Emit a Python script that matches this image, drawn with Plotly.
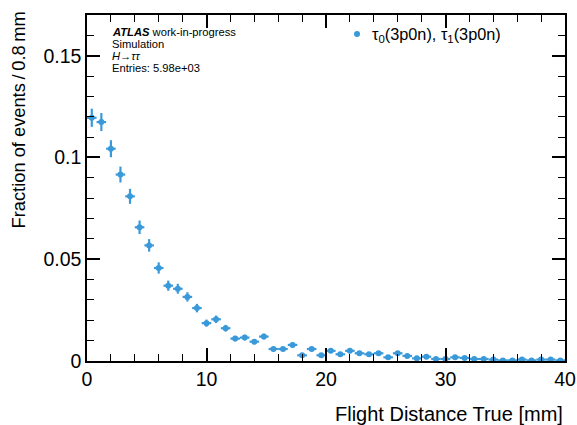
import numpy as np
import plotly.graph_objects as go

bin_width = 0.8
bin_centers = [round(0.4 + 0.8 * i, 2) for i in range(50)]
fraction = [0.1195, 0.1174, 0.1043, 0.0916, 0.0809, 0.0657, 0.0568, 0.0457, 0.0370, 0.0355,
            0.0315, 0.0260, 0.0186, 0.0205, 0.0161, 0.0110, 0.0115, 0.0095, 0.0120, 0.0059,
            0.0059, 0.0079, 0.0028, 0.0059, 0.0028, 0.0050, 0.0033, 0.0050, 0.0038, 0.0033,
            0.0038, 0.0018, 0.0038, 0.0025, 0.0013, 0.0021, 0.0010, 0.0010, 0.0018, 0.0015,
            0.0010, 0.0010, 0.0007, 0.0003, 0.0003, 0.0007, 0.0003, 0.0007, 0.0007, 0.0003]
entries = 5980
x_ticks = [0, 10, 20, 30, 40]
y_ticks = [0, 0.05, 0.1, 0.15]
y_tick_labels = ["0", "0.05", "0.1", "0.15"]
series_label = "τ<sub>0</sub>(3p0n), τ<sub>1</sub>(3p0n)"
info_lines = ["<b><i>ATLAS</i></b> work-in-progress", "Simulation", "<i>H→ττ</i>",
              "Entries: 5.98e+03"]

frac = np.array(fraction)
y_err = np.sqrt(frac * entries) / entries

color = "#3a9ad9"
fig = go.Figure()
fig.add_trace(go.Scatter(
    x=bin_centers, y=fraction, mode="markers",
    name=series_label, showlegend=False,
    marker=dict(color=color, size=6),
    error_x=dict(type="constant", value=bin_width / 2, color=color, thickness=2.2, width=0),
    error_y=dict(type="data", array=y_err, color=color, thickness=2.2, width=0),
))

font_family = "Liberation Sans, Arial, Helvetica, sans-serif"
axis_common = dict(
    showline=True, linecolor="black", linewidth=1.5, mirror="ticks",
    ticks="inside", ticklen=13, tickwidth=1.5, tickcolor="black",
    showgrid=False, zeroline=False, automargin=False,
    tickfont=dict(family=font_family, size=19.5, color="black"),
)
fig.update_layout(
    width=577, height=425,
    margin=dict(l=87, r=12, t=15, b=64),
    paper_bgcolor="white", plot_bgcolor="white",
    font=dict(family=font_family, color="black"),
    showlegend=False,
    xaxis=dict(range=[0, 40], tickvals=x_ticks,
               minor=dict(dtick=2, ticks="inside", ticklen=7, tickwidth=1.2, tickcolor="black"),
               **axis_common),
    yaxis=dict(range=[0, 0.17], tickvals=y_ticks, ticktext=y_tick_labels,
               minor=dict(dtick=0.01, ticks="inside", ticklen=7, tickwidth=1.2, tickcolor="black"),
               **axis_common),
)
# legend drawn by hand (symbol + label) to match the compact spacing of the reference
fig.add_shape(type="circle", xref="paper", yref="paper", xsizemode="pixel", ysizemode="pixel",
              xanchor=0.5649, yanchor=0.945, x0=-3, x1=3, y0=-3, y1=3,
              fillcolor=color, line=dict(width=0))
fig.add_annotation(xref="paper", yref="paper", x=0.594, y=0.943, xanchor="left", yanchor="middle",
                   showarrow=False, text=series_label, borderpad=0,
                   font=dict(size=16.3, family=font_family))
# axis titles aligned to the ends, as in the reference
fig.add_annotation(xref="paper", yref="paper", x=1.0, y=-0.115, xanchor="right", yanchor="top",
                   showarrow=False, text="Flight Distance True [mm]",
                   font=dict(size=20, family=font_family))
fig.add_annotation(xref="paper", yref="paper", x=-0.144, y=1.015, xanchor="center", yanchor="top",
                   showarrow=False, textangle=-90, text="Fraction of events\u2009/\u20090.8\u2009mm",
                   font=dict(size=18.3, family=font_family))
for i, line in enumerate(info_lines):
    fig.add_annotation(
        xref="paper", yref="paper", x=0.05, y=0.952 - i * 0.0347, xanchor="left", yanchor="middle",
        align="left", showarrow=False, text=line, borderpad=0,
        font=dict(size=11.2, family=font_family),
    )
fig.write_html("out.html")
